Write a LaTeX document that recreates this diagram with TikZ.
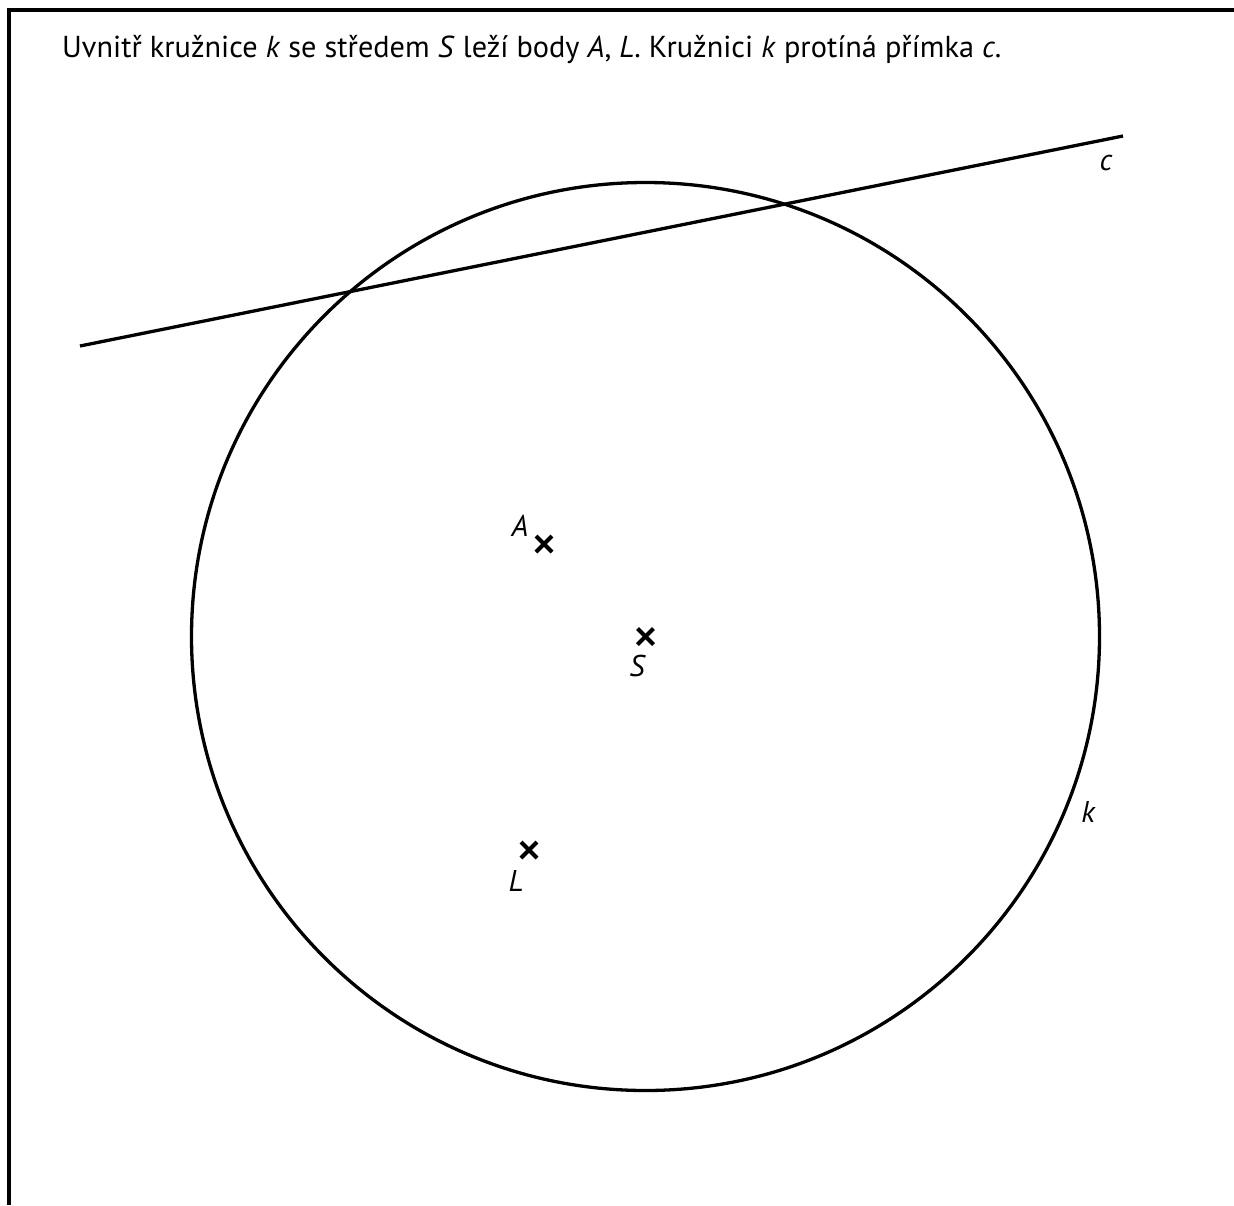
\documentclass[tikz,border=0pt]{standalone}
\usepackage{fontspec}
\setmainfont{PT Sans}
\usetikzlibrary{calc}
\begin{document}
\begin{tikzpicture}[x=1pt,y=-1pt,
  thick line/.style={line width=3.3pt},
  xmark/.style={line width=4pt},
  lbl/.style={inner sep=0pt, font=\fontsize{30}{34}\selectfont\itshape}]
\useasboundingbox (0,0) rectangle (1234,1205);
% frame (top and left only visible)
\coordinate (ftr) at (1234,10);
\coordinate (ftl) at (9,10);
\coordinate (fbl) at (9,1205);
\draw[line width=3.5pt] (ftr) -- (ftl) -- (fbl);
% title
\node[anchor=base west, inner sep=0pt, font=\fontsize{30.3}{34}\selectfont] (title) at (62,57)
  {Uvnitř kružnice \textit{k} se středem \textit{S} leží body \textit{A}, \textit{L}. Kružnici \textit{k} protíná přímka \textit{c}.};
% circle k
\coordinate (S) at (645.5,636.5);
\draw[thick line] (S) circle (454);
% line c
\coordinate (c1) at (80,346);
\coordinate (c2) at (1123,136);
\draw[thick line] (c1) -- (c2);
% points
\coordinate (A) at (544,544);
\coordinate (L) at (529,850);
\foreach \p in {A,S,L}{
  \draw[xmark] ($(\p)+(-8,-8)$) -- ($(\p)+(8,8)$);
  \draw[xmark] ($(\p)+(-8,8)$) -- ($(\p)+(8,-8)$);
}
\node[lbl] (lA) at (520,526) {A};
\node[lbl] (lS) at (637,666) {S};
\node[lbl] (lL) at (516,881) {L};
\node[lbl] (lk) at (1088,812) {k};
\node[lbl] (lc) at (1106,163) {c};
\end{tikzpicture}
\end{document}
